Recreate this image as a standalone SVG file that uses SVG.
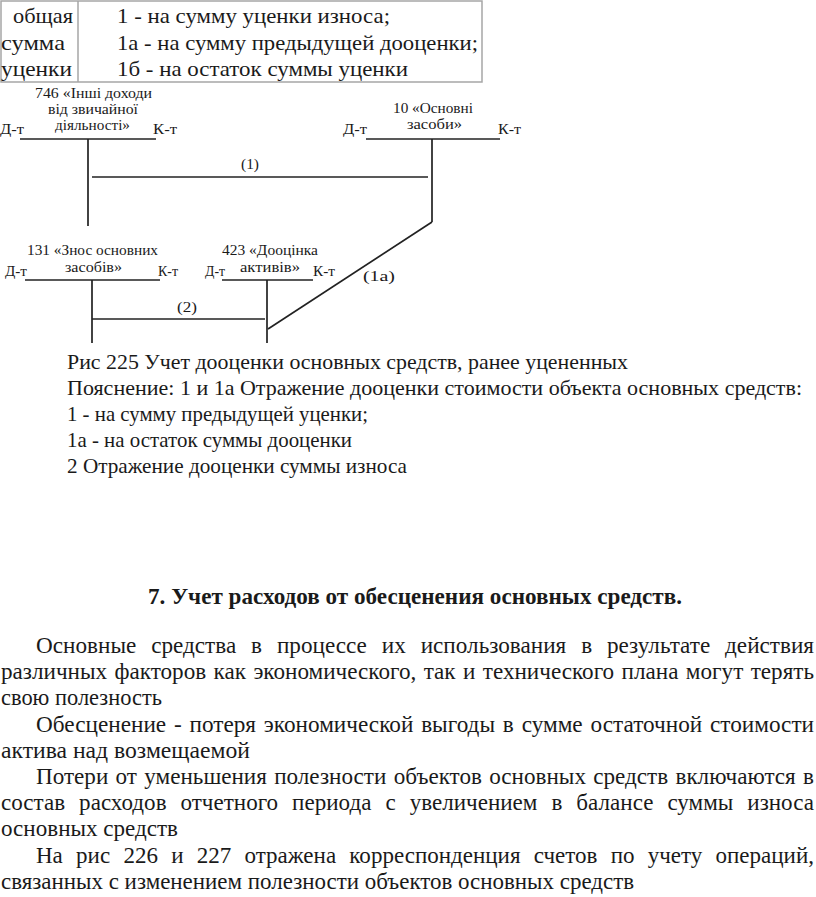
<svg xmlns="http://www.w3.org/2000/svg" width="816" height="897" viewBox="0 0 816 897">
<style>
text{font-family:"Liberation Serif","Times New Roman",serif;fill:#1a1a1a}
.tb{font-size:21px}
.lb{font-size:15px}
.tx{font-size:23px}
.cp{font-size:22px}
.hd{font-size:23px;font-weight:bold}
.ln{stroke:#222;stroke-width:1.7;fill:none}
.grid{stroke:#a6a6a6;stroke-width:1.5;fill:none}
</style>
<rect width="816" height="897" fill="#fff"/>

<g id="legend-table">
<rect class="grid" x="1" y="1" width="481" height="81"/>
<line class="grid" x1="78" y1="1" x2="78" y2="82"/>
<text class="tb" x="13" y="23" textLength="60" lengthAdjust="spacingAndGlyphs">общая</text>
<text class="tb" x="1" y="50" textLength="64" lengthAdjust="spacingAndGlyphs">сумма</text>
<text class="tb" x="1" y="76" textLength="71" lengthAdjust="spacingAndGlyphs">уценки</text>
<text class="tb" x="117" y="23" textLength="273" lengthAdjust="spacingAndGlyphs">1 - на сумму уценки износа;</text>
<text class="tb" x="117" y="50" textLength="361" lengthAdjust="spacingAndGlyphs">1а - на сумму предыдущей дооценки;</text>
<text class="tb" x="117" y="76" textLength="291" lengthAdjust="spacingAndGlyphs">1б - на остаток суммы уценки</text>
</g>

<g id="acc-746">
<text class="lb" x="35" y="98" textLength="117" lengthAdjust="spacingAndGlyphs">746 «Інші доходи</text>
<text class="lb" x="48" y="114" textLength="90" lengthAdjust="spacingAndGlyphs">від звичайної</text>
<text class="lb" x="55" y="130" textLength="75" lengthAdjust="spacingAndGlyphs">діяльності»</text>
<text class="lb" x="0" y="134" textLength="24" lengthAdjust="spacingAndGlyphs">Д-т</text>
<text class="lb" x="153" y="134" textLength="24" lengthAdjust="spacingAndGlyphs">К-т</text>
<line class="ln" x1="20" y1="139" x2="156" y2="139"/>
<line class="ln" x1="88" y1="139" x2="88" y2="226"/>
</g>

<g id="acc-10">
<text class="lb" x="393" y="113" textLength="80" lengthAdjust="spacingAndGlyphs">10 «Основні</text>
<text class="lb" x="407" y="129" textLength="55" lengthAdjust="spacingAndGlyphs">засоби»</text>
<text class="lb" x="343" y="134" textLength="24" lengthAdjust="spacingAndGlyphs">Д-т</text>
<text class="lb" x="498" y="134" textLength="23" lengthAdjust="spacingAndGlyphs">К-т</text>
<line class="ln" x1="366" y1="139" x2="500" y2="139"/>
<line class="ln" x1="432" y1="139" x2="432" y2="222"/>
</g>

<g id="acc-131">
<text class="lb" x="27" y="255" textLength="131" lengthAdjust="spacingAndGlyphs">131 «Знос основних</text>
<text class="lb" x="65" y="272" textLength="57" lengthAdjust="spacingAndGlyphs">засобів»</text>
<text class="lb" x="5" y="276" textLength="22" lengthAdjust="spacingAndGlyphs">Д-т</text>
<text class="lb" x="158" y="276" textLength="20" lengthAdjust="spacingAndGlyphs">К-т</text>
<line class="ln" x1="25" y1="280" x2="160" y2="280"/>
<line class="ln" x1="92" y1="280" x2="92" y2="343"/>
</g>

<g id="acc-423">
<text class="lb" x="222" y="255" textLength="96" lengthAdjust="spacingAndGlyphs">423 «Дооцінка</text>
<text class="lb" x="240" y="272" textLength="60" lengthAdjust="spacingAndGlyphs">активів»</text>
<text class="lb" x="205" y="276" textLength="20" lengthAdjust="spacingAndGlyphs">Д-т</text>
<text class="lb" x="313" y="276" textLength="22" lengthAdjust="spacingAndGlyphs">К-т</text>
<line class="ln" x1="222" y1="280" x2="313" y2="280"/>
<line class="ln" x1="267" y1="280" x2="267" y2="343"/>
</g>

<g id="connectors">
<line class="ln" x1="92" y1="177" x2="428" y2="177"/>
<text class="lb" x="241" y="169" textLength="18" lengthAdjust="spacingAndGlyphs">(1)</text>
<line class="ln" x1="432" y1="222" x2="268" y2="329"/>
<text class="lb" x="363" y="281" textLength="32" lengthAdjust="spacingAndGlyphs">(1а)</text>
<line class="ln" x1="92" y1="319" x2="265" y2="319"/>
<text class="lb" x="177" y="312" textLength="20" lengthAdjust="spacingAndGlyphs">(2)</text>
</g>

<g id="caption">
<text class="cp" x="67" y="369" textLength="561" lengthAdjust="spacingAndGlyphs">Рис 225 Учет дооценки основных средств, ранее уцененных</text>
<text class="cp" x="67" y="395" textLength="735" lengthAdjust="spacingAndGlyphs">Пояснение: 1 и 1а Отражение дооценки стоимости объекта основных средств:</text>
<text class="cp" x="67" y="421" textLength="301" lengthAdjust="spacingAndGlyphs">1 - на сумму предыдущей уценки;</text>
<text class="cp" x="67" y="447" textLength="285" lengthAdjust="spacingAndGlyphs">1а - на остаток суммы дооценки</text>
<text class="cp" x="67" y="473" textLength="340" lengthAdjust="spacingAndGlyphs">2 Отражение дооценки суммы износа</text>
</g>

<g id="section">
<text class="hd" x="148" y="604" textLength="534" lengthAdjust="spacingAndGlyphs">7. Учет расходов от обесценения основных средств.</text>
<text class="tx" x="36" y="653" word-spacing="9" textLength="778" lengthAdjust="spacingAndGlyphs">Основные средства в процессе их использования в результате действия</text>
<text class="tx" x="1" y="679" word-spacing="1.6" textLength="813" lengthAdjust="spacingAndGlyphs">различных факторов как экономического, так и технического плана могут терять</text>
<text class="tx" x="1" y="705" textLength="161" lengthAdjust="spacingAndGlyphs">свою полезность</text>
<text class="tx" x="36" y="732" word-spacing="2" textLength="778" lengthAdjust="spacingAndGlyphs">Обесценение - потеря экономической выгоды в сумме остаточной стоимости</text>
<text class="tx" x="1" y="758" textLength="249" lengthAdjust="spacingAndGlyphs">актива над возмещаемой</text>
<text class="tx" x="36" y="784" word-spacing="1.5" textLength="778" lengthAdjust="spacingAndGlyphs">Потери от уменьшения полезности объектов основных средств включаются в</text>
<text class="tx" x="1" y="810" word-spacing="8.2" textLength="813" lengthAdjust="spacingAndGlyphs">состав расходов отчетного периода с увеличением в балансе суммы износа</text>
<text class="tx" x="1" y="836" textLength="177" lengthAdjust="spacingAndGlyphs">основных средств</text>
<text class="tx" x="36" y="863" word-spacing="7.5" textLength="778" lengthAdjust="spacingAndGlyphs">На рис 226 и 227 отражена корреспонденция счетов по учету операций,</text>
<text class="tx" x="1" y="889" textLength="633" lengthAdjust="spacingAndGlyphs">связанных с изменением полезности объектов основных средств</text>
</g>
</svg>
